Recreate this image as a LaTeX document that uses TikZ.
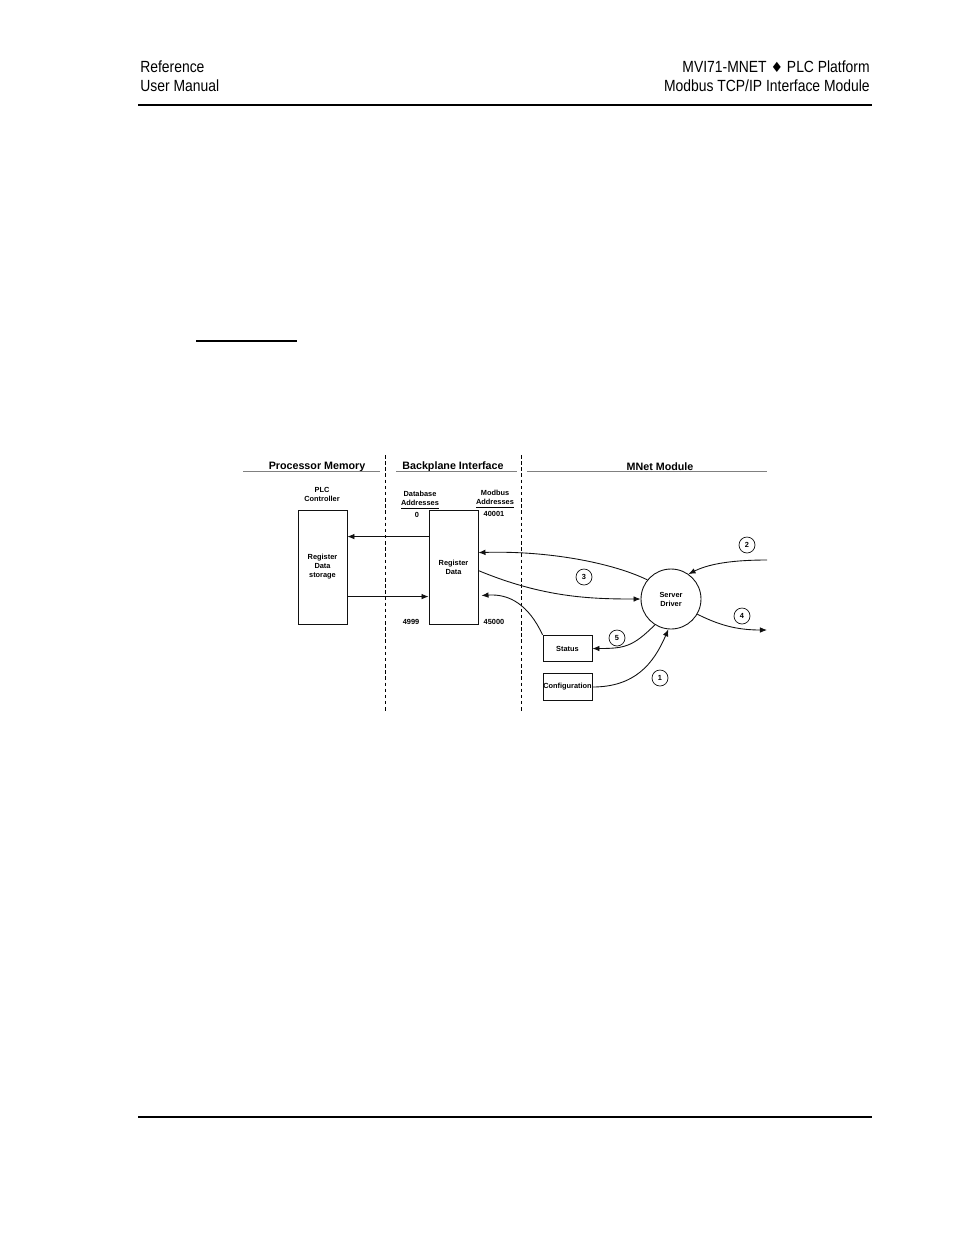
\documentclass[tikz,border=0pt]{standalone}
\usepackage{fontspec}
\setmainfont{Liberation Sans}
\newfontfamily\hdrfont[FakeStretch=0.86]{Liberation Sans}
\newfontfamily\symfont{DejaVu Sans}
\usetikzlibrary{arrows.meta,positioning}
\definecolor{ruleblack}{HTML}{111111}
\definecolor{sectgray}{HTML}{808080}

\tikzset{
  hdrtext/.style={inner sep=0pt, font=\hdrfont\fontsize{9.2}{11}\selectfont},
  secttext/.style={inner sep=0pt, font=\bfseries\fontsize{6.1}{7}\selectfont},
  lbl/.style={inner sep=0pt, align=center, font=\bfseries\fontsize{4.2}{5.1}\selectfont},
  regbox/.style={draw=ruleblack, line width=0.5pt, minimum width=0.98cm, minimum height=2.28cm, inner sep=0pt},
  smallbox/.style={draw=ruleblack, line width=0.5pt, minimum width=0.98cm, minimum height=0.53cm, inner sep=0pt, font=\bfseries\fontsize{4.2}{5.1}\selectfont},
  numcirc/.style={circle, draw=ruleblack, line width=0.4pt, minimum size=0.32cm, inner sep=0pt, font=\bfseries\fontsize{4.2}{5.1}\selectfont},
  flow/.style={-{Latex[length=4pt,width=3.2pt]}, line width=0.5pt, draw=ruleblack},
  sectrule/.style={line width=0.5pt, draw=sectgray},
  divider/.style={line width=0.5pt, dash pattern=on 2pt off 1.5pt}
}

\begin{document}
\begin{tikzpicture}[x=0.02cm, y=-0.02cm]
  \useasboundingbox (0,0) rectangle (954,1235);

  % Page Header
  \node[hdrtext, anchor=base west] (hdrref) at (140,72) {Reference};
  \node[hdrtext, anchor=base west] (hdrman) at (140,91) {User Manual};
  \node[hdrtext, anchor=base east] (hdrprod) at (870,72) {MVI71-MNET {\symfont\fontsize{8}{10}\selectfont ♦} PLC Platform};
  \node[hdrtext, anchor=base east] (hdrmod) at (870,91) {Modbus TCP/IP Interface Module};
  \draw[line width=0.6pt] (138,105) -- (872,105);
  \draw[line width=0.6pt] (196,341) -- (297,341);
  \draw[line width=0.6pt] (138,1117) -- (872,1117);

  % Section Headings
  \node[secttext] (secpm) at (317,466.5) {Processor Memory};
  \node[secttext] (secbp) at (453,466.5) {Backplane Interface};
  \node[secttext] (secmn) at (660,466.5) {MNet Module};
  \draw[sectrule] (243,471) -- (380,471);
  \draw[sectrule] (396,471) -- (517,471);
  \draw[sectrule] (527,471) -- (767,471);
  \draw[divider] (385,455) -- (385,712);
  \draw[divider] (521,455) -- (521,712);

  % Register Blocks
  \node[lbl] (plcc) at (322,494.5) {PLC\\Controller};
  \node[regbox, lbl] (psto) at (322.5,567) {Register\\Data\\storage};
  \node[regbox, lbl] (regd) at (453.5,567) {Register\\Data};
  \node[lbl] (dbadr) at (420,500.5) {Database\\\underline{Addresses}};
  \node[lbl] (mbadr) at (495,499.5) {Modbus\\\underline{Addresses}};
  \node[lbl] (dblo) at (417,515) {0};
  \node[lbl] (mblo) at (494,513.5) {40001};
  \node[lbl] (dbhi) at (411,622) {4999};
  \node[lbl] (mbhi) at (494,622) {45000};

  % MNet Module Blocks
  \node[circle, draw=ruleblack, line width=0.5pt, minimum size=1.2cm, inner sep=0pt, lbl] (srv) at (671,599) {Server\\Driver};
  \node[smallbox] (stat) at (567.5,648.5) {Status};
  \node[smallbox] (conf) at (567.5,687) {Configuration};
  \coordinate (netin) at (767,560);
  \coordinate (netout) at (767,630);

  % Step Numbers
  \node[numcirc] (st1) at (660,678) {1};
  \node[numcirc] (st2) at (747,545) {2};
  \node[numcirc] (st3) at (584,577) {3};
  \node[numcirc] (st4) at (742,616) {4};
  \node[numcirc] (st5) at (617,638) {5};

  % Data Transfers
  \draw[flow] ([yshift=-0.54cm]regd.north west) -- ([yshift=-0.54cm]psto.north east);
  \draw[flow] ([yshift=-1.74cm]psto.north east) -- ([yshift=-1.74cm]regd.north west);
  \draw[flow] (srv.141) .. controls +(-35,-17) and +(70,-2) .. ([yshift=-0.86cm]regd.north east);
  \draw[flow] ([yshift=-1.22cm]regd.north east) .. controls +(65,27) and +(-50,0) .. (srv.west);
  \draw[flow] (netin) .. controls +(-40,0) and +(18,-9) .. (srv.55);
  \draw[flow] (srv.-30) .. controls +(22,11) and +(-30,0) .. (netout);
  \draw[flow] (srv.238) .. controls +(-22,22) and +(32,0) .. (stat.east);
  \draw[flow] (conf.east) .. controls +(42,0) and +(-15,35) .. (srv.265);
  \draw[flow] (stat.north west) .. controls +(-14,-30) and +(28,-2) .. ([yshift=-1.72cm,xshift=0.06cm]regd.north east);
\end{tikzpicture}
\end{document}
